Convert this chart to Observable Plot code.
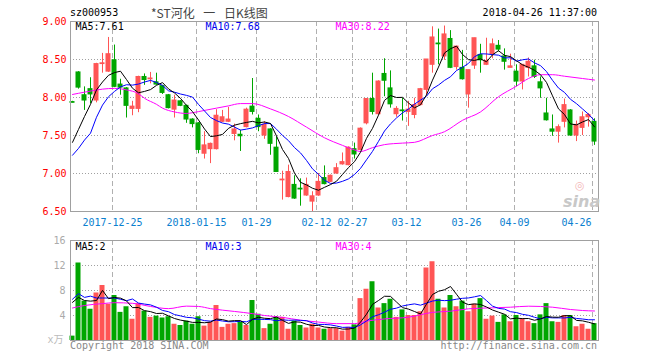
<!DOCTYPE html>
<html><head><meta charset="utf-8">
<script src="https://cdn.jsdelivr.net/npm/d3@7"></script>
<script src="https://cdn.jsdelivr.net/npm/@observablehq/plot@0.6"></script>
<style>
body{margin:0;background:#fff;}
#c{position:relative;width:660px;height:360px;overflow:hidden;font-family:"DejaVu Sans Mono",monospace;font-size:10px;}
#c svg{position:absolute;left:0;}
.t{position:absolute;white-space:nowrap;line-height:10px;}
</style></head><body><div id="c"></div>
<script>
// ---- data (index 0 = 2017-12-14 ... index 87 = 2018-04-26) ----
const opens = [7.94,8.33,8.03,8.11,7.96,8.44,8.34,8.49,8.17,8.12,7.85,7.85,8.27,8.24,8.20,8.15,8.03,7.84,7.95,7.89,
7.71,7.66,7.26,7.32,7.32,7.68,7.68,7.52,7.51,7.61,7.88,7.72,7.50,7.58,7.34,6.91,6.69,6.85,6.80,6.71,
6.63,6.71,6.94,6.89,7.00,7.12,7.11,7.32,7.31,7.66,7.98,7.78,8.31,8.12,7.78,7.83,7.81,7.77,7.90,8.10,
8.43,8.71,8.54,8.77,8.40,8.39,8.04,8.42,8.56,8.43,8.57,8.68,8.54,8.39,8.34,8.21,8.39,8.41,8.20,7.79,
7.58,7.55,7.68,7.83,7.50,7.60,7.74,7.68];
const highs = [7.95,8.34,8.14,8.26,8.45,8.58,8.79,8.69,8.24,8.13,7.95,8.28,8.31,8.33,8.32,8.16,8.04,8.03,7.96,7.90,
7.72,7.67,7.55,7.40,7.84,7.83,7.87,7.65,7.57,7.86,8.25,7.77,7.68,7.59,7.48,7.03,7.11,6.97,6.93,6.94,
6.76,7.00,7.10,6.98,7.13,7.27,7.35,7.40,7.60,7.98,8.32,8.22,8.51,8.35,7.88,7.99,7.95,7.99,8.12,8.50,
8.93,8.90,8.94,8.88,8.67,8.62,8.36,8.78,8.70,8.78,8.77,8.75,8.64,8.57,8.43,8.43,8.52,8.49,8.27,7.99,
7.77,7.64,7.98,7.84,7.69,7.81,7.79,7.72];
const lows = [7.93,8.11,7.83,7.92,7.93,8.32,8.33,8.13,8.03,7.73,7.76,7.80,8.16,8.18,8.16,8.04,7.85,7.73,7.88,7.66,
7.60,7.26,7.19,7.13,7.31,7.67,7.67,7.43,7.29,7.60,7.77,7.55,7.45,7.24,7.02,6.65,6.68,6.66,6.57,6.70,
6.50,6.70,6.85,6.88,6.99,7.11,7.10,7.19,7.30,7.64,7.77,7.77,8.01,7.86,7.74,7.69,7.62,7.72,7.89,8.03,
8.32,8.43,8.49,8.38,8.36,8.23,7.86,8.37,8.32,8.42,8.51,8.60,8.36,8.39,8.14,8.10,8.27,8.25,7.99,7.69,
7.49,7.40,7.60,7.49,7.42,7.50,7.61,7.37];
const closes = [7.93,8.13,7.96,8.04,8.44,8.45,8.57,8.14,8.13,7.89,7.88,8.27,8.23,8.25,8.17,8.06,7.86,7.96,7.89,7.71,
7.65,7.31,7.37,7.39,7.76,7.74,7.71,7.58,7.49,7.84,7.81,7.61,7.64,7.39,7.02,6.92,7.02,6.67,6.79,6.85,
6.70,6.89,6.86,6.97,7.07,7.15,7.34,7.25,7.59,7.98,7.81,8.21,8.22,7.91,7.85,7.82,7.84,7.90,8.11,8.50,
8.79,8.70,8.83,8.39,8.67,8.24,8.36,8.78,8.49,8.48,8.70,8.63,8.47,8.41,8.21,8.43,8.47,8.27,8.12,7.70,
7.55,7.61,7.90,7.50,7.64,7.74,7.77,7.42];
const volumes = [0.7,12.4,6.3,5.0,7.6,8.8,5.8,7.2,4.5,5.4,3.4,5.9,4.7,3.7,3.9,3.6,3.8,2.6,2.4,3.1,
2.6,3.8,2.3,2.9,5.6,2.1,2.6,2.7,2.9,2.4,6.4,4.2,1.9,2.6,3.7,3.7,1.8,3.1,2.4,2.0,
2.6,2.0,1.8,1.9,1.9,1.5,2.1,2.5,6.7,8.2,9.4,5.2,5.9,6.6,3.7,4.9,4.0,4.0,4.6,11.6,
12.6,6.6,5.2,7.2,5.4,6.3,4.6,5.8,6.7,3.4,3.9,2.9,4.1,3.0,4.0,3.5,3.0,2.7,4.1,5.9,
3.0,2.9,4.0,4.0,2.2,2.6,1.8,2.7];
const ma5Lead = [7.41,7.58,7.75,7.91];
const ma10Lead = [7.24,7.33,7.44,7.53,7.74,7.90,8.01,8.08,8.14];
const ma30Idx = [0,2,5,7,9,11,12,14,15,17,19,20,22,24,26,28,30,33,36,39,42,45,47,48,50,52,55,57,60,62,65,68,71,74,76,78,80,82,85,87];
const ma30Val = [8.04,8.07,8.11,8.12,8.10,8.05,7.99,7.91,7.86,7.81,7.79,7.80,7.83,7.86,7.89,7.92,7.92,7.85,7.75,7.61,7.47,7.37,7.31,7.29,7.34,7.38,7.40,7.41,7.50,7.55,7.70,7.81,8.01,8.15,8.25,8.30,8.30,8.28,8.25,8.23];
const volMa5Lead = [6.1,6.9,6.4,6.3];
const volMa10Lead = [6.6,7.5,6.9,7.1,6.8,6.8,6.8,6.8,6.6];
const volMa30Idx = [0,2,5,7,10,13,16,19,21,23,27,30,32,35,38,41,44,47,49,52,56,60,63,66,70,73,76,80,83,85,87];
const volMa30Val = [5.2,5.6,5.9,6.05,5.95,5.45,5.1,5.5,5.45,5.1,4.65,4.3,4.0,3.7,3.25,2.95,2.7,2.7,3.1,3.45,3.73,4.5,4.69,5.07,5.23,5.33,5.49,5.33,4.96,4.8,4.72];
const dateTickIdx = [7,21,31,41,47,56,66,74,87];
const dateTickLabels = ["2017-12-25","2018-01-15","01-29","02-12","02-27","03-12","03-26","04-09","04-26"];
const priceTicks = [6.5,7,7.5,8,8.5,9];
const volTicks = [4,8,12,16];
const priceLegend = ["MA5:7.61","MA10:7.68","MA30:8.22"];
const volLegend = ["MA5:2","MA10:3","MA30:4"];
const stockCode = "sz000953";
const titleText = "*ST河化 一 日K线图";
const stamp = "2018-04-26 11:37:00";

// ---- drawing ----
const RED = "#ff5555", GREEN = "#00a600";
const N = opens.length;
const candles = d3.range(N).map(i => ({i, o: opens[i], h: highs[i], l: lows[i], c: closes[i], v: volumes[i],
  col: closes[i] >= opens[i] ? RED : GREEN}));
function movingAvg(vals, k, lead) {
  return vals.map((_, i) => ({i, v: i < k - 1 ? lead[i] : d3.mean(vals.slice(i - k + 1, i + 1))}));
}
const pMA5 = movingAvg(closes, 5, ma5Lead), pMA10 = movingAvg(closes, 10, ma10Lead);
const pMA30 = ma30Idx.map((i, k) => ({i, v: ma30Val[k]}));
const vMA5 = movingAvg(volumes, 5, volMa5Lead), vMA10 = movingAvg(volumes, 10, volMa10Lead);
const vMA30 = volMa30Idx.map((i, k) => ({i, v: volMa30Val[k]}));

const common = {
  width: 660, marginLeft: 70, marginRight: 62,
  x: {domain: [-1/3, N - 1/3], axis: null},
  style: {fontFamily: '"DejaVu Sans Mono", monospace', fontSize: "10px", background: "transparent", overflow: "visible"}
};
const grid = (ticks) => Plot.ruleY(ticks, {stroke: "#a0a0a0", strokeDasharray: "1,2"});
const vgrid = Plot.ruleX(dateTickIdx, {x: d => d - 1/3, stroke: "#b0b0b0", strokeDasharray: "5,3"});
const legend = (labels, dy) => [
  Plot.text([labels[0]], {text: d => d, frameAnchor: "top-left", dx: 5, dy, fill: "#000"}),
  Plot.text([labels[1]], {text: d => d, frameAnchor: "top-left", dx: 135, dy, fill: "#0000ee"}),
  Plot.text([labels[2]], {text: d => d, frameAnchor: "top-left", dx: 265, dy, fill: "#ff00ff"})
];

const price = Plot.plot({
  ...common, height: 232, marginTop: 21, marginBottom: 21,
  y: {domain: [6.5, 9], axis: null},
  marks: [
    grid(priceTicks.slice(1, -1)),
    vgrid,
    Plot.ruleX(candles, {x: "i", y1: "l", y2: "h", stroke: "col"}),
    Plot.rect(candles, {x1: d => d.i - 5/12, x2: d => d.i + 5/12, y1: d => Math.min(d.o, d.c), y2: d => Math.max(d.o, d.c),
      fill: "col", insetTop: -0.5, insetBottom: -0.5}),
    Plot.line(pMA30, {x: "i", y: "v", stroke: "#ff00ff", strokeWidth: 1, curve: "monotone-x"}),
    Plot.line(pMA10, {x: "i", y: "v", stroke: "#0000ff", strokeWidth: 1}),
    Plot.line(pMA5, {x: "i", y: "v", stroke: "#000", strokeWidth: 1}),
    Plot.frame({stroke: "#a0a0a0"}),
    Plot.text(priceTicks, {y: d => d, text: d => d.toFixed(2), frameAnchor: "left", textAnchor: "end", dx: -4, fill: "#ff0000"}),
    Plot.text(dateTickIdx.slice(0, -1), {x: d => d - 1/3, text: (d, k) => dateTickLabels[k], frameAnchor: "bottom",
      lineAnchor: "middle", dy: 11, fill: "#0a80cf"}),
    Plot.text(dateTickIdx.slice(-1), {x: d => d - 1/3, text: () => dateTickLabels[dateTickLabels.length - 1], frameAnchor: "bottom",
      lineAnchor: "middle", dy: 11, dx: -1, textAnchor: "end", fill: "#0a80cf"}),
    ...legend(priceLegend, 1.5)
  ]
});

const volume = Plot.plot({
  ...common, height: 128, marginTop: 8, marginBottom: 20,
  y: {domain: [0, 16], axis: null},
  marks: [
    grid(volTicks.slice(0, -1)),
    vgrid,
    Plot.rect(candles, {x1: d => d.i - 5/12, x2: d => d.i + 5/12, y1: 0, y2: "v", fill: "col"}),
    Plot.line(vMA30, {x: "i", y: "v", stroke: "#ff00ff", strokeWidth: 1, curve: "monotone-x"}),
    Plot.line(vMA10, {x: "i", y: "v", stroke: "#0000ff", strokeWidth: 1}),
    Plot.line(vMA5, {x: "i", y: "v", stroke: "#000", strokeWidth: 1}),
    Plot.frame({stroke: "#a0a0a0"}),
    Plot.text(volTicks, {y: d => d, text: d => String(d), frameAnchor: "left", textAnchor: "end", dx: -5, fill: "#aaa"}),
    Plot.text(["x万"], {text: d => d, frameAnchor: "bottom-left", textAnchor: "end", lineAnchor: "middle", dx: -7, dy: -1, fill: "#bbb",
      fontFamily: '"DejaVu Sans Mono","Noto Sans CJK SC",monospace'}),
    ...legend(volLegend, 2)
  ]
});

const c = document.getElementById("c");
price.style.top = "0px";
volume.style.top = "232px";
c.appendChild(price);
c.appendChild(volume);
function addText(txt, css) {
  const d = document.createElement("div");
  d.className = "t"; d.textContent = txt; Object.assign(d.style, css); c.appendChild(d);
}
addText(stockCode, {left: "70px", top: "8px", color: "#000"});
addText(titleText, {left: "151px", top: "6px", fontFamily: '"Noto Sans CJK SC",sans-serif', fontSize: "12px", lineHeight: "14px",
  wordSpacing: "6px", color: "#444"});
addText(stamp, {right: "63px", top: "8px", color: "#000"});
addText("Copyright 2018 SINA.COM", {left: "70px", top: "341px", color: "#888"});
addText("http://finance.sina.com.cn", {right: "63px", top: "341px", color: "#888"});
addText("sina", {left: "563px", top: "194px", fontFamily: '"DejaVu Sans",sans-serif', fontSize: "16px", lineHeight: "16px",
  fontStyle: "italic", fontWeight: "bold", color: "#c8c8c8"});
addText("◎", {left: "575px", top: "180px", fontFamily: '"DejaVu Sans",sans-serif', fontSize: "11px", lineHeight: "11px", color: "#f3b8b8"});
</script></body></html>
